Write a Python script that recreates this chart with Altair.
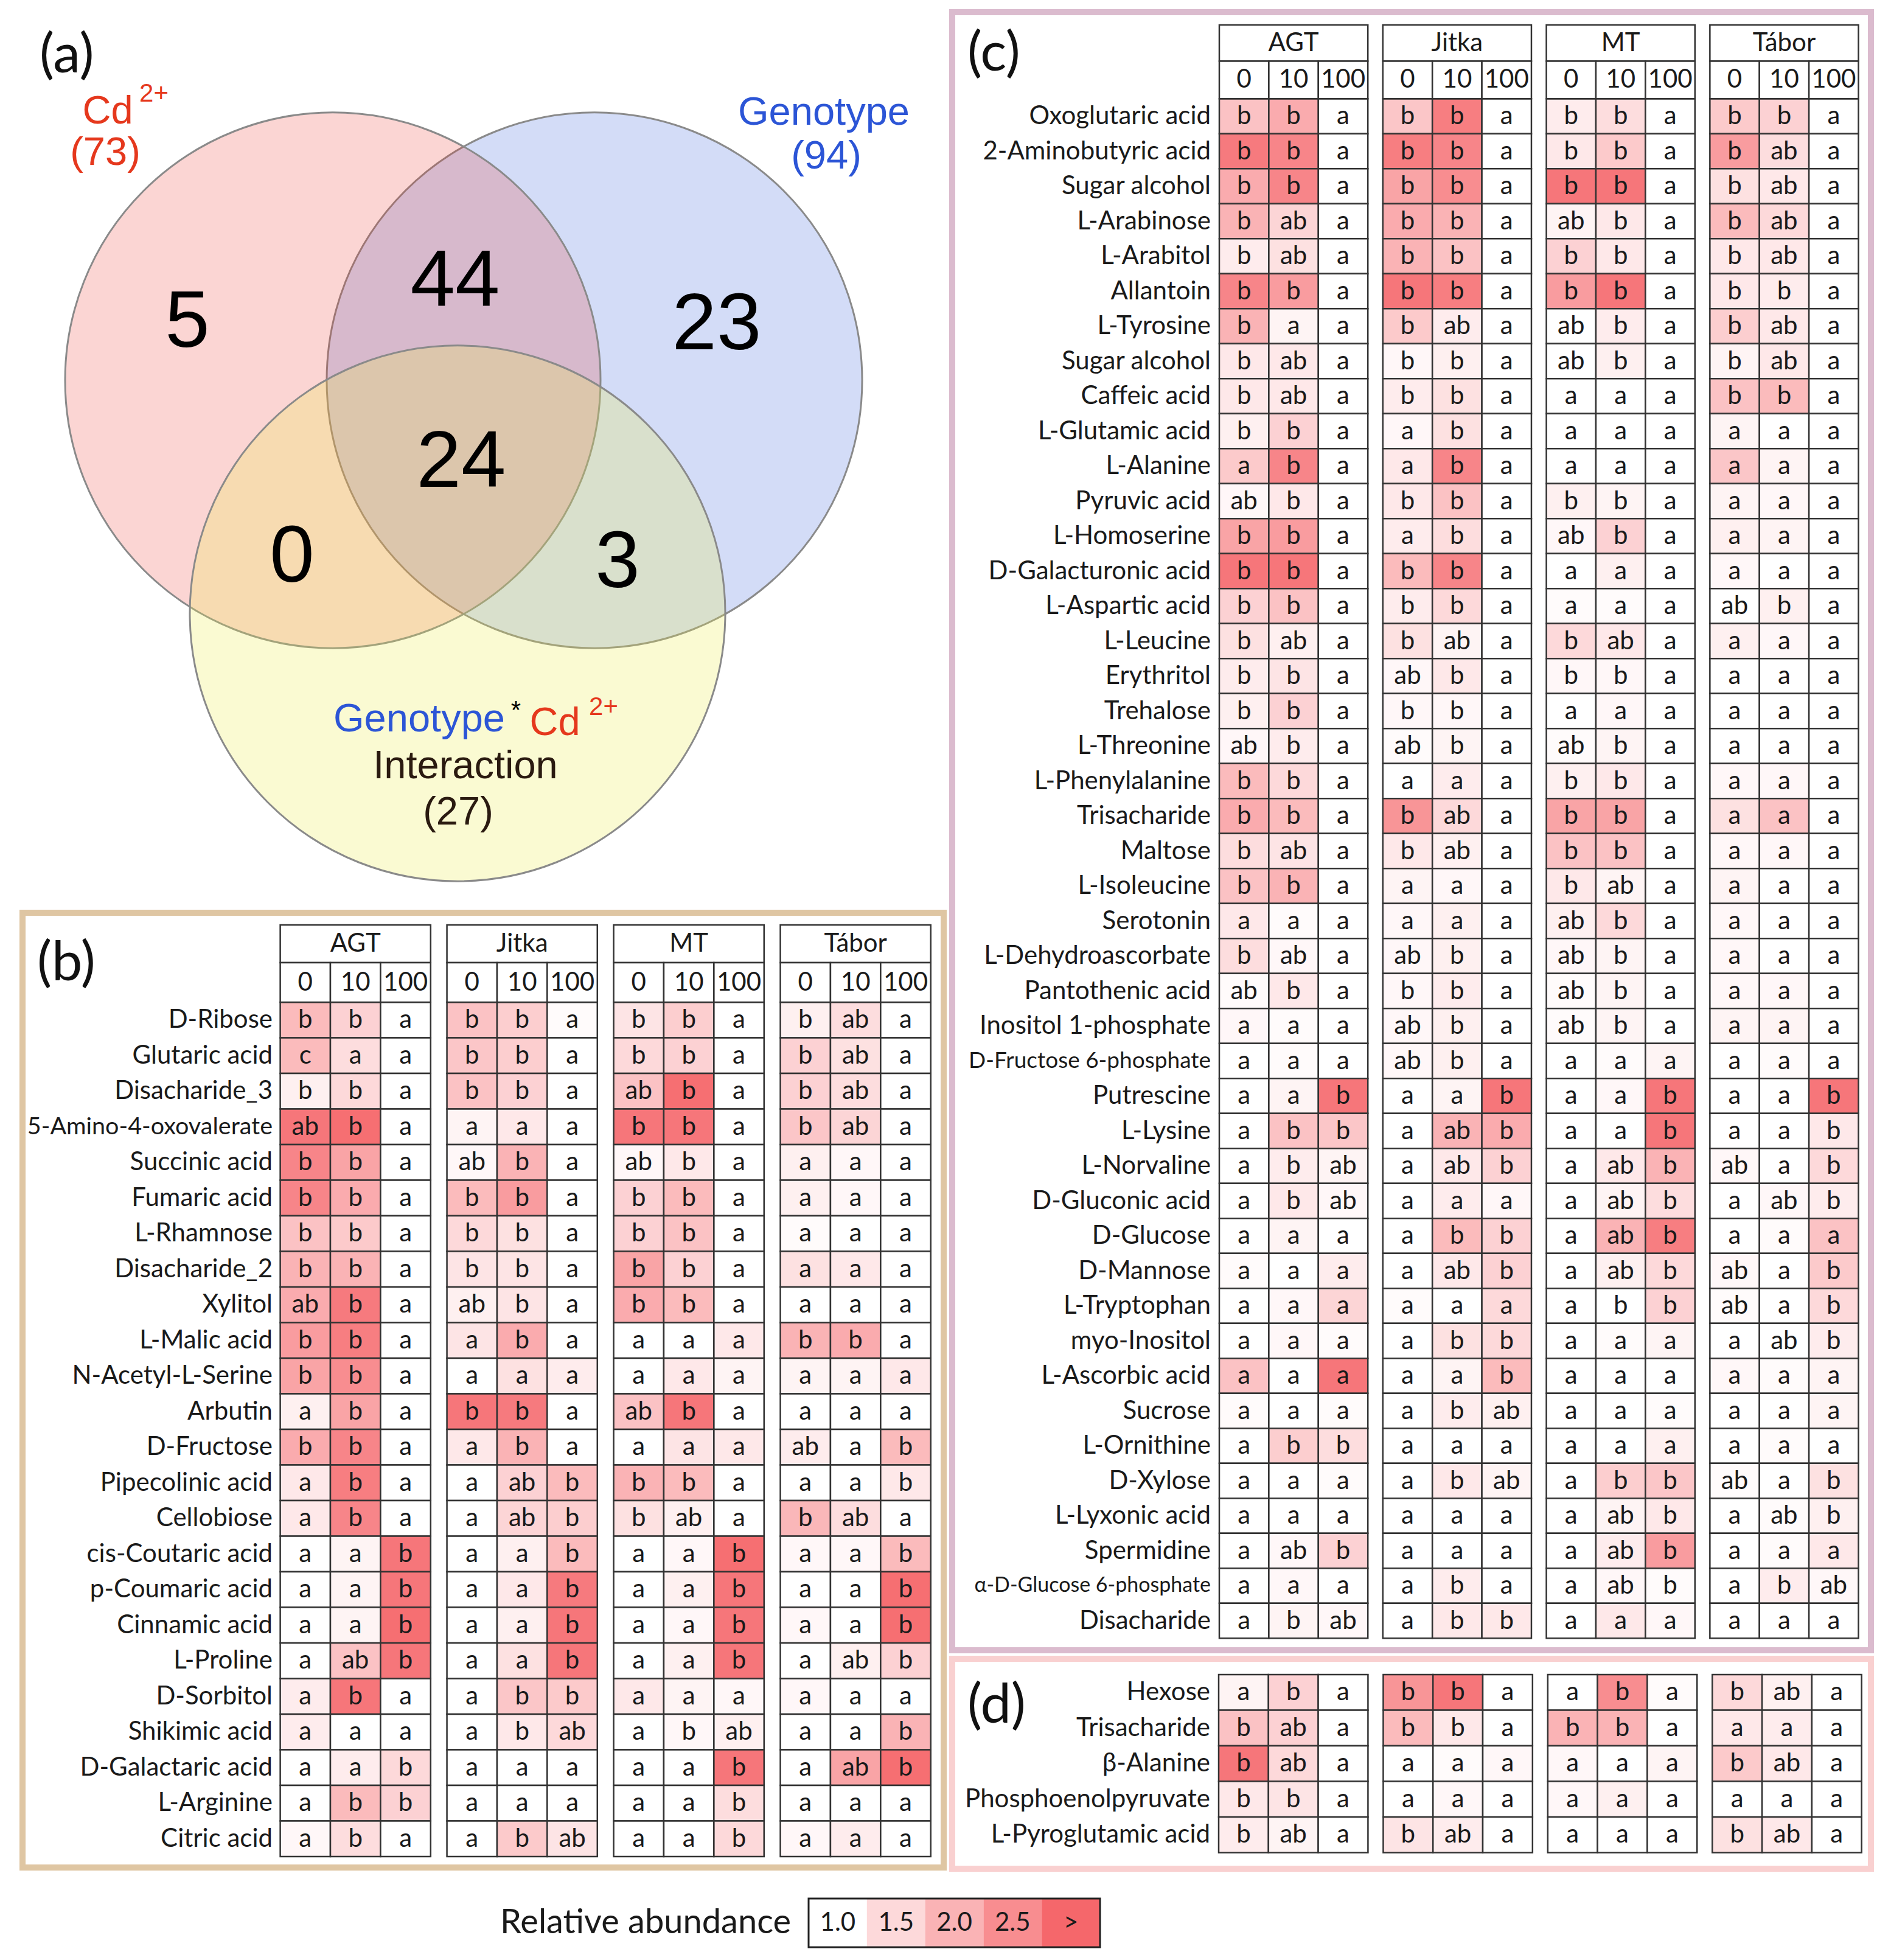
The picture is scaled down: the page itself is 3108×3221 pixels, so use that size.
import altair as alt
import pandas as pd

# ---------------------------------------------------------------- data
GENOTYPES = ["AGT", "Jitka", "MT", "Tábor"]
CONCENTRATIONS = ["0", "10", "100"]

VENN_SETS = ["Genotype", "Cd", "Interaction"]
VENN_TOTALS = {"Cd": 73, "Genotype": 94, "Interaction": 27}
VENN_REGIONS = ["Cd only", "Cd & Genotype", "Genotype only", "all three", "Cd & Interaction", "Genotype & Interaction"]
VENN_COUNTS = [5, 44, 23, 24, 0, 3]

B_METABOLITES = ["D-Ribose", "Glutaric acid", "Disacharide_3", "5-Amino-4-oxovalerate", "Succinic acid",
                 "Fumaric acid", "L-Rhamnose", "Disacharide_2", "Xylitol", "L-Malic acid", "N-Acetyl-L-Serine",
                 "Arbutin", "D-Fructose", "Pipecolinic acid", "Cellobiose", "cis-Coutaric acid", "p-Coumaric acid",
                 "Cinnamic acid", "L-Proline", "D-Sorbitol", "Shikimic acid", "D-Galactaric acid", "L-Arginine",
                 "Citric acid"]
B_LETTERS = ["b b a b b a b b a b ab a", "c a a b b a b b a b ab a", "b b a b b a ab b a b ab a",
             "ab b a a a a b b a b ab a", "b b a ab b a ab b a a a a", "b b a b b a b b a a a a",
             "b b a b b a b b a a a a", "b b a b b a b b a a a a", "ab b a ab b a b b a a a a",
             "b b a a b a a a a b b a", "b b a a a a a a a a a a", "a b a b b a ab b a a a a",
             "b b a a b a a a a ab a b", "a b a a ab b b b a a a b", "a b a a ab b b ab a b ab a",
             "a a b a a b a a b a a b", "a a b a a b a a b a a b", "a a b a a b a a b a a b",
             "a ab b a a b a a b a ab b", "a b a a b b a a a a a a", "a a a a b ab a b ab a a b",
             "a a b a a a a a b a ab b", "a b b a a a a a b a a a", "a b a a b ab a a b a a a"]
B_ABUNDANCE = [
    [1.9, 1.6, 1.0, 1.8, 1.65, 1.05, 1.35, 1.65, 1.0, 1.2, 1.45, 1.0],
    [1.9, 1.45, 1.0, 1.75, 1.65, 1.0, 1.5, 1.6, 1.0, 1.6, 1.4, 1.0],
    [1.2, 1.5, 1.0, 1.8, 1.6, 1.0, 1.8, 2.9, 1.0, 1.6, 1.45, 1.0],
    [2.8, 2.9, 1.0, 1.15, 1.3, 1.0, 2.8, 2.8, 1.0, 1.75, 1.55, 1.0],
    [2.6, 2.2, 1.0, 1.1, 2.0, 1.0, 1.1, 1.3, 1.0, 1.2, 1.1, 1.0],
    [2.6, 2.1, 1.0, 1.9, 2.3, 1.0, 1.6, 1.9, 1.0, 1.2, 1.1, 1.0],
    [1.8, 1.7, 1.0, 1.5, 1.4, 1.0, 1.6, 1.8, 1.0, 1.05, 1.0, 1.0],
    [2.0, 2.0, 1.0, 1.35, 1.35, 1.0, 2.2, 1.6, 1.0, 1.4, 1.3, 1.0],
    [2.1, 2.75, 1.0, 1.2, 1.35, 1.0, 2.1, 1.9, 1.0, 1.0, 1.0, 1.0],
    [2.3, 2.7, 1.0, 1.35, 2.1, 1.0, 1.0, 1.0, 1.3, 2.0, 2.1, 1.0],
    [2.2, 2.5, 1.0, 1.0, 1.4, 1.25, 1.0, 1.3, 1.15, 1.15, 1.15, 1.3],
    [1.2, 2.2, 1.0, 2.8, 2.75, 1.0, 1.8, 2.8, 1.0, 1.0, 1.0, 1.0],
    [2.1, 2.6, 1.0, 1.3, 2.0, 1.0, 1.0, 1.35, 1.3, 1.25, 1.0, 1.9],
    [1.3, 2.7, 1.0, 1.0, 1.6, 1.9, 2.0, 1.9, 1.0, 1.0, 1.0, 1.3],
    [1.3, 2.6, 1.0, 1.0, 1.55, 1.65, 1.4, 1.2, 1.0, 1.95, 1.45, 1.0],
    [1.0, 1.15, 2.8, 1.0, 1.2, 1.9, 1.0, 1.1, 2.9, 1.1, 1.1, 1.9],
    [1.0, 1.15, 2.8, 1.0, 1.3, 2.75, 1.0, 1.2, 2.8, 1.0, 1.0, 2.9],
    [1.0, 1.15, 2.9, 1.0, 1.2, 2.8, 1.0, 1.1, 2.8, 1.1, 1.0, 2.9],
    [1.0, 1.8, 2.8, 1.0, 1.4, 2.8, 1.0, 1.2, 2.8, 1.0, 1.2, 1.6],
    [1.25, 2.8, 1.0, 1.0, 1.75, 1.7, 1.3, 1.15, 1.1, 1.1, 1.0, 1.0],
    [1.25, 1.0, 1.0, 1.0, 1.3, 1.5, 1.0, 1.1, 1.2, 1.0, 1.0, 2.0],
    [1.0, 1.25, 1.5, 1.0, 1.0, 1.0, 1.0, 1.0, 2.8, 1.0, 2.2, 2.9],
    [1.0, 1.9, 1.6, 1.0, 1.0, 1.0, 1.0, 1.0, 1.45, 1.0, 1.0, 1.0],
    [1.1, 1.45, 1.0, 1.0, 1.7, 1.35, 1.0, 1.0, 1.5, 1.1, 1.25, 1.0],
]

C_METABOLITES = ["Oxoglutaric acid", "2-Aminobutyric acid", "Sugar alcohol", "L-Arabinose", "L-Arabitol",
                 "Allantoin", "L-Tyrosine", "Sugar alcohol", "Caffeic acid", "L-Glutamic acid", "L-Alanine",
                 "Pyruvic acid", "L-Homoserine", "D-Galacturonic acid", "L-Aspartic acid", "L-Leucine",
                 "Erythritol", "Trehalose", "L-Threonine", "L-Phenylalanine", "Trisacharide", "Maltose",
                 "L-Isoleucine", "Serotonin", "L-Dehydroascorbate", "Pantothenic acid", "Inositol 1-phosphate",
                 "D-Fructose 6-phosphate", "Putrescine", "L-Lysine", "L-Norvaline", "D-Gluconic acid",
                 "D-Glucose", "D-Mannose", "L-Tryptophan", "myo-Inositol", "L-Ascorbic acid", "Sucrose",
                 "L-Ornithine", "D-Xylose", "L-Lyxonic acid", "Spermidine", "α-D-Glucose 6-phosphate",
                 "Disacharide"]
C_LETTERS = ["b b a b b a b b a b b a", "b b a b b a b b a b ab a", "b b a b b a b b a b ab a",
             "b ab a b b a ab b a b ab a", "b ab a b b a b b a b ab a", "b b a b b a b b a b b a",
             "b a a b ab a ab b a b ab a", "b ab a b b a ab b a b ab a", "b ab a b b a a a a b b a",
             "b b a a b a a a a a a a", "a b a a b a a a a a a a", "ab b a b b a b b a a a a",
             "b b a a b a ab b a a a a", "b b a b b a a a a a a a", "b b a b b a a a a ab b a",
             "b ab a b ab a b ab a a a a", "b b a ab b a b b a a a a", "b b a b b a a a a a a a",
             "ab b a ab b a ab b a a a a", "b b a a a a b b a a a a", "b b a b ab a b b a a a a",
             "b ab a b ab a b b a a a a", "b b a a a a b ab a a a a", "a a a a a a ab b a a a a",
             "b ab a ab b a ab b a a a a", "ab b a b b a ab b a a a a", "a a a ab b a ab b a a a a",
             "a a a ab b a a a a a a a", "a a b a a b a a b a a b", "a b b a ab b a a b a a b",
             "a b ab a ab b a ab b ab a b", "a b ab a a a a ab b a ab b", "a a a a b b a ab b a a a",
             "a a a a ab b a ab b ab a b", "a a a a a a a b b ab a b", "a a a a b b a a a a ab b",
             "a a a a a b a a a a a a", "a a a a b ab a a a a a a", "a b b a a a a a a a a a",
             "a a a a b ab a b b ab a b", "a a a a a a a ab b a ab b", "a ab b a a a a ab b a a a",
             "a a a a b a a ab b a b ab", "a b ab a b b a a a a a a"]
C_ABUNDANCE = [
    [1.8, 2.1, 1.0, 1.75, 2.7, 1.0, 1.25, 1.45, 1.0, 1.7, 1.6, 1.0],
    [2.75, 2.6, 1.0, 2.7, 2.6, 1.0, 1.3, 1.7, 1.0, 2.3, 1.45, 1.0],
    [2.1, 2.6, 1.0, 2.2, 2.5, 1.0, 2.8, 2.8, 1.0, 1.4, 1.3, 1.0],
    [2.0, 1.55, 1.0, 2.1, 2.0, 1.0, 1.15, 1.3, 1.0, 1.9, 1.5, 1.0],
    [1.25, 1.4, 1.0, 2.0, 1.8, 1.0, 1.6, 1.3, 1.0, 1.3, 1.3, 1.0],
    [2.6, 2.3, 1.0, 2.8, 2.7, 1.0, 2.3, 2.8, 1.0, 1.3, 1.25, 1.0],
    [2.0, 1.15, 1.0, 1.7, 1.25, 1.0, 1.0, 1.25, 1.0, 1.65, 1.3, 1.0],
    [1.3, 1.3, 1.0, 1.1, 1.2, 1.0, 1.0, 1.2, 1.0, 1.15, 1.3, 1.0],
    [1.3, 1.3, 1.0, 1.25, 1.4, 1.0, 1.0, 1.0, 1.0, 1.8, 1.9, 1.0],
    [1.2, 1.6, 1.0, 1.1, 1.4, 1.0, 1.0, 1.0, 1.0, 1.15, 1.0, 1.0],
    [1.7, 2.6, 1.0, 1.3, 2.6, 1.0, 1.0, 1.0, 1.0, 1.75, 1.15, 1.0],
    [1.1, 1.3, 1.0, 1.3, 1.8, 1.0, 1.2, 1.15, 1.0, 1.15, 1.1, 1.0],
    [2.2, 2.3, 1.0, 1.25, 1.45, 1.0, 1.1, 1.6, 1.0, 1.2, 1.15, 1.0],
    [2.8, 2.8, 1.0, 1.9, 2.6, 1.0, 1.0, 1.2, 1.0, 1.1, 1.0, 1.0],
    [1.6, 1.8, 1.0, 1.25, 1.5, 1.0, 1.05, 1.05, 1.0, 1.0, 1.2, 1.0],
    [1.4, 1.2, 1.0, 1.4, 1.15, 1.0, 1.5, 1.3, 1.0, 1.2, 1.1, 1.0],
    [1.25, 1.35, 1.0, 1.1, 1.3, 1.0, 1.1, 1.1, 1.0, 1.0, 1.0, 1.0],
    [1.2, 1.6, 1.0, 1.1, 1.1, 1.0, 1.0, 1.1, 1.0, 1.0, 1.0, 1.0],
    [1.1, 1.25, 1.0, 1.05, 1.15, 1.0, 1.05, 1.15, 1.0, 1.0, 1.0, 1.0],
    [1.9, 1.5, 1.0, 1.0, 1.25, 1.0, 1.2, 1.3, 1.0, 1.1, 1.1, 1.0],
    [2.1, 1.9, 1.0, 2.4, 1.5, 1.0, 2.2, 2.2, 1.0, 1.4, 1.8, 1.0],
    [1.45, 1.35, 1.0, 1.3, 1.2, 1.0, 1.8, 1.8, 1.0, 1.1, 1.1, 1.0],
    [1.8, 2.0, 1.0, 1.15, 1.1, 1.0, 1.3, 1.15, 1.0, 1.15, 1.0, 1.0],
    [1.3, 1.05, 1.0, 1.1, 1.2, 1.0, 1.2, 1.5, 1.0, 1.1, 1.0, 1.0],
    [1.45, 1.1, 1.0, 1.1, 1.2, 1.0, 1.1, 1.15, 1.0, 1.1, 1.0, 1.0],
    [1.05, 1.3, 1.0, 1.1, 1.25, 1.0, 1.05, 1.15, 1.0, 1.1, 1.1, 1.0],
    [1.1, 1.05, 1.0, 1.1, 1.2, 1.0, 1.05, 1.15, 1.0, 1.15, 1.15, 1.0],
    [1.0, 1.05, 1.0, 1.1, 1.2, 1.0, 1.0, 1.05, 1.15, 1.0, 1.05, 1.0],
    [1.0, 1.15, 2.8, 1.0, 1.15, 2.8, 1.0, 1.1, 2.8, 1.0, 1.0, 2.8],
    [1.0, 1.8, 1.75, 1.0, 2.0, 2.1, 1.0, 1.0, 2.8, 1.0, 1.0, 1.3],
    [1.0, 1.25, 1.15, 1.0, 1.3, 1.6, 1.0, 1.3, 2.0, 1.1, 1.0, 1.5],
    [1.0, 1.3, 1.1, 1.0, 1.25, 1.1, 1.0, 1.15, 1.45, 1.0, 1.1, 1.25],
    [1.0, 1.15, 1.0, 1.0, 1.9, 1.6, 1.0, 2.0, 2.7, 1.0, 1.05, 1.8],
    [1.05, 1.0, 1.25, 1.0, 1.3, 1.6, 1.0, 1.2, 1.5, 1.1, 1.0, 1.7],
    [1.0, 1.1, 1.55, 1.05, 1.0, 1.5, 1.0, 1.0, 1.6, 1.05, 1.0, 1.5],
    [1.0, 1.1, 1.05, 1.0, 1.4, 1.5, 1.0, 1.05, 1.15, 1.0, 1.0, 1.25],
    [1.8, 1.0, 2.8, 1.0, 1.15, 1.9, 1.0, 1.0, 1.0, 1.1, 1.05, 1.15],
    [1.05, 1.0, 1.05, 1.0, 1.25, 1.2, 1.0, 1.0, 1.05, 1.0, 1.0, 1.15],
    [1.0, 1.65, 1.45, 1.0, 1.0, 1.0, 1.0, 1.0, 1.2, 1.0, 1.05, 1.0],
    [1.0, 1.0, 1.05, 1.0, 1.3, 1.15, 1.0, 1.65, 1.75, 1.05, 1.0, 1.4],
    [1.0, 1.0, 1.0, 1.0, 1.0, 1.0, 1.0, 1.15, 1.3, 1.0, 1.05, 1.2],
    [1.0, 1.1, 1.6, 1.0, 1.0, 1.0, 1.0, 1.25, 2.3, 1.0, 1.05, 1.3],
    [1.0, 1.1, 1.0, 1.0, 1.25, 1.0, 1.0, 1.1, 1.05, 1.0, 1.25, 1.1],
    [1.0, 1.15, 1.1, 1.0, 1.3, 1.3, 1.0, 1.3, 1.1, 1.0, 1.0, 1.0],
]

D_METABOLITES = ["Hexose", "Trisacharide", "β-Alanine", "Phosphoenolpyruvate", "L-Pyroglutamic acid"]
D_LETTERS = ["a b a b b a a b a b ab a", "b ab a b b a b b a a a a", "b ab a a a a a a a b ab a",
             "b b a a a a a a a a a a", "b ab a b ab a a a a b ab a"]
D_ABUNDANCE = [
    [1.15, 1.6, 1.0, 2.4, 2.8, 1.0, 1.0, 2.5, 1.05, 1.5, 1.2, 1.0],
    [1.8, 1.6, 1.0, 1.9, 1.3, 1.0, 2.0, 2.0, 1.0, 1.3, 1.25, 1.0],
    [2.8, 1.5, 1.0, 1.0, 1.05, 1.1, 1.1, 1.0, 1.15, 1.7, 1.3, 1.0],
    [1.3, 1.35, 1.0, 1.0, 1.1, 1.0, 1.1, 1.2, 1.0, 1.0, 1.0, 1.0],
    [1.25, 1.15, 1.0, 1.35, 1.25, 1.0, 1.0, 1.0, 1.0, 1.4, 1.3, 1.0],
]

LEGEND_STEPS = [1.0, 1.5, 2.0, 2.5, 3.0]
LEGEND_LABELS = ["1.0", "1.5", "2.0", "2.5", ">"]

# ---------------------------------------------------------------- styles / layout
TABLE_FONT = "Lato"
VENN_FONT = "Liberation Sans"
RED, BLUE, DARK = "#e5381d", "#2c55d6", "#2a1a10"
GRID = "#333333"
COLOR_SCALE = alt.Scale(domain=[1.0, 3.0], range=["#ffffff", "#f5676b"], clamp=True, interpolate="rgb")
TAG_SIZE = 90

B_GEO = dict(w=1514, h=1569, cell=82.4, row=58.5, grid_x=423.6, grid_y=147, gap=0.325,
             h1=-2.17, hmid=-1.11, lab_gap=12.6, tag=(24, 84), frame="#dfc6a3")
C_GEO = dict(w=1510, h=2692, cell=81.4, row=57.5, grid_x=439, grid_y=142.3, gap=0.302,
             h1=-2.11, hmid=-1.073, lab_gap=14, tag=(25, 69), frame="#dbbbce")
D_GEO = dict(w=1510, h=345, cell=81.8, row=58.5, grid_x=438, grid_y=26, gap=0.306,
             h1=None, hmid=None, lab_gap=14, tag=(25, 78), frame="#f9d0d0")
NAME_SIZE = 42
CELL_SIZE = 42
SMALL_NAMES = {"D-Fructose 6-phosphate": 37, "α-D-Glucose 6-phosphate": 34, "5-Amino-4-oxovalerate": 39.5}


def table_panel(tag, names, letters, values, geo):
    W, H, cw, rh = geo["w"], geo["h"], geo["cell"], geo["row"]
    gx, gy, G = geo["grid_x"], geo["grid_y"], geo["gap"]
    sx = alt.Scale(domain=[-gx / cw, (W - gx) / cw], nice=False, zero=False)
    sy = alt.Scale(domain=[-gy / rh, (H - gy) / rh], nice=False, zero=False, reverse=True)

    def X(f):
        return alt.X(f, type="quantitative", scale=sx, axis=None)

    def Y(f):
        return alt.Y(f, type="quantitative", scale=sy, axis=None)

    rows = []
    for i, (let, vals) in enumerate(zip(letters, values)):
        toks = let.split()
        for k in range(12):
            g, c = divmod(k, 3)
            x0 = g * (3 + G) + c
            rows.append(dict(x0=x0, x1=x0 + 1, xc=x0 + 0.5, y0=i, y1=i + 1, yc=i + 0.5,
                             v=vals[k], t=toks[k]))
    cells = pd.DataFrame(rows)
    labels = pd.DataFrame(dict(name=names, yc=[i + 0.5 for i in range(len(names))],
                               lx=[-geo["lab_gap"] / cw] * len(names),
                               fs=[SMALL_NAMES.get(n, NAME_SIZE) for n in names]))
    tagdf = pd.DataFrame(dict(t=[tag], x=[(geo["tag"][0] - gx) / cw], y=[(geo["tag"][1] - gy) / rh]))

    layers = [
        alt.Chart(cells).mark_rect(stroke=GRID, strokeWidth=2.5).encode(
            x=X("x0"), x2="x1", y=Y("y0"), y2="y1",
            color=alt.Color("v:Q", scale=COLOR_SCALE, legend=None)),
        alt.Chart(cells).mark_text(font=TABLE_FONT, fontSize=CELL_SIZE, color="#1a1a1a").encode(
            x=X("xc"), y=Y("yc"), text="t:N"),
        alt.Chart(labels).mark_text(font=TABLE_FONT, align="right", color="#1a1a1a").encode(
            x=X("lx"), y=Y("yc"), text="name:N", size=alt.Size("fs:Q", scale=None)),
        alt.Chart(tagdf).mark_text(font=TABLE_FONT, fontSize=TAG_SIZE, align="left", color="#111").encode(
            x=X("x"), y=Y("y"), text="t:N"),
    ]
    if geo["h1"] is not None:
        hrows = []
        for g, gname in enumerate(GENOTYPES):
            x0 = g * (3 + G)
            hrows.append(dict(x0=x0, x1=x0 + 3, y0=geo["h1"], y1=geo["hmid"], t=gname))
            for c, cname in enumerate(CONCENTRATIONS):
                hrows.append(dict(x0=x0 + c, x1=x0 + c + 1, y0=geo["hmid"], y1=0, t=cname))
        hdr = pd.DataFrame(hrows)
        hdr["xc"] = (hdr.x0 + hdr.x1) / 2
        hdr["yc"] = (hdr.y0 + hdr.y1) / 2
        layers += [
            alt.Chart(hdr).mark_rect(stroke=GRID, strokeWidth=2.5, fill="white").encode(
                x=X("x0"), x2="x1", y=Y("y0"), y2="y1"),
            alt.Chart(hdr).mark_text(font=TABLE_FONT, fontSize=CELL_SIZE, color="#1a1a1a").encode(
                x=X("xc"), y=Y("yc"), text="t:N"),
        ]
    return alt.layer(*layers).properties(
        width=W, height=H, view=alt.ViewBackground(stroke=geo["frame"], strokeWidth=10))


# ---------------------------------------------------------------- venn (a)
VW, VH = 1514, 1470
# drawn bottom to top: Genotype, Cd, Interaction (translucent fills)
VENN_LAYOUT = dict(cx=[940, 510, 715], cy=[605, 605, 988], r=[440, 440, 440],
                   fill=["#2350d7", "#eb2d23", "#ecec52"], alpha=[0.2, 0.2, 0.26])
REGION_POS = {"Cd only": (271, 510), "Cd & Genotype": (711, 443), "Genotype only": (1141, 514),
              "all three": (721, 740), "Cd & Interaction": (443, 896), "Genotype & Interaction": (978, 905)}

vsx = alt.Scale(domain=[0, VW], nice=False, zero=False)
vsy = alt.Scale(domain=[0, VH], nice=False, zero=False, reverse=True)


def VX(f):
    return alt.X(f, type="quantitative", scale=vsx, axis=None)


def VY(f):
    return alt.Y(f, type="quantitative", scale=vsy, axis=None)


circ = pd.DataFrame(dict(set=VENN_SETS, cx=VENN_LAYOUT["cx"], cy=VENN_LAYOUT["cy"],
                         r=VENN_LAYOUT["r"], fill=VENN_LAYOUT["fill"], fo=VENN_LAYOUT["alpha"]))
circ["s"] = (2 * circ["r"]) ** 2

vt = []
for reg, n in zip(VENN_REGIONS, VENN_COUNTS):
    x, y = REGION_POS[reg]
    vt.append(dict(t=str(n), x=x, y=y, fs=132, col="#000000"))
vt += [
    dict(t="Cd", x=140, y=163, fs=65, col=RED),
    dict(t="2+", x=216, y=134, fs=42, col=RED),
    dict(t=f"({VENN_TOTALS['Cd']})", x=136, y=231, fs=65, col=RED),
    dict(t="Genotype", x=1317, y=165, fs=65, col=BLUE),
    dict(t=f"({VENN_TOTALS['Genotype']})", x=1321, y=237, fs=65, col=BLUE),
    dict(t="Genotype", x=652, y=1162, fs=65, col=BLUE),
    dict(t="*", x=811, y=1148, fs=42, col="#000000"),
    dict(t="Cd", x=875, y=1168, fs=65, col=RED),
    dict(t="2+", x=955, y=1142, fs=42, col=RED),
    dict(t="Interaction", x=728, y=1239, fs=65, col=DARK),
    dict(t=f"({VENN_TOTALS['Interaction']})", x=716, y=1315, fs=65, col=DARK),
]
vtext = pd.DataFrame(vt)
atag = pd.DataFrame(dict(t=["(a)"], x=[28], y=[72]))

venn = alt.layer(
    alt.Chart(circ).mark_circle(opacity=1, stroke="#8a8a8a", strokeWidth=3, strokeOpacity=1).encode(
        x=VX("cx"), y=VY("cy"), size=alt.Size("s:Q", scale=None),
        color=alt.Color("fill:N", scale=None), fillOpacity=alt.FillOpacity("fo:Q", scale=None)),
    alt.Chart(vtext).mark_text(font=VENN_FONT).encode(
        x=VX("x"), y=VY("y"), text="t:N", size=alt.Size("fs:Q", scale=None),
        color=alt.Color("col:N", scale=None)),
    alt.Chart(atag).mark_text(font=TABLE_FONT, fontSize=TAG_SIZE, align="left", color="#111").encode(
        x=VX("x"), y=VY("y"), text="t:N"),
).properties(width=VW, height=VH, view=alt.ViewBackground(strokeWidth=0))

# ---------------------------------------------------------------- legend
LW, LH, BOX_X, SW = 1771, 80, 1292, 95.8
lsx = alt.Scale(domain=[-BOX_X / SW, (LW - BOX_X) / SW], nice=False, zero=False)
lsy = alt.Scale(domain=[0, 1], nice=False, zero=False, reverse=True)
sw = pd.DataFrame(dict(v=LEGEND_STEPS, lab=LEGEND_LABELS, x0=range(5)))
sw["x1"] = sw.x0 + 1
sw["xc"] = sw.x0 + 0.5
sw["y0"], sw["y1"], sw["yc"] = 0.0, 1.0, 0.5
box = pd.DataFrame(dict(x0=[0], x1=[len(LEGEND_STEPS)], y0=[0.0], y1=[1.0]))
ltitle = pd.DataFrame(dict(t=["Relative abundance"], x=[-29 / SW], y=[0.5]))


def LX(f):
    return alt.X(f, type="quantitative", scale=lsx, axis=None)


def LY(f):
    return alt.Y(f, type="quantitative", scale=lsy, axis=None)


legend = alt.layer(
    alt.Chart(sw).mark_rect().encode(x=LX("x0"), x2="x1", y=LY("y0"), y2="y1",
                                     color=alt.Color("v:Q", scale=COLOR_SCALE, legend=None)),
    alt.Chart(box).mark_rect(fillOpacity=0, stroke="#222", strokeWidth=3).encode(
        x=LX("x0"), x2="x1", y=LY("y0"), y2="y1"),
    alt.Chart(sw).mark_text(font=TABLE_FONT, fontSize=42, color="#1a1a1a").encode(
        x=LX("xc"), y=LY("yc"), text="lab:N"),
    alt.Chart(ltitle).mark_text(font=TABLE_FONT, fontSize=56, align="right", color="#1a1a1a").encode(
        x=LX("x"), y=LY("y"), text="t:N"),
).properties(width=LW, height=LH, view=alt.ViewBackground(strokeWidth=0))

# ---------------------------------------------------------------- assemble
panel_b = table_panel("(b)", B_METABOLITES, B_LETTERS, B_ABUNDANCE, B_GEO)
panel_c = table_panel("(c)", C_METABOLITES, C_LETTERS, C_ABUNDANCE, C_GEO)
panel_d = table_panel("(d)", D_METABOLITES, D_LETTERS, D_ABUNDANCE, D_GEO)

left = alt.vconcat(venn, panel_b, spacing=10, bounds="flush")
right = alt.vconcat(panel_c, panel_d, spacing=14, bounds="flush")
top = alt.hconcat(left, right, spacing=4)
chart = alt.vconcat(top, legend, spacing=42).properties(
    padding={"left": 24, "top": 7, "right": 5, "bottom": 5}
).configure_view(stroke=None)

chart.save("out.html", embed_options={"renderer": "svg", "actions": False})
